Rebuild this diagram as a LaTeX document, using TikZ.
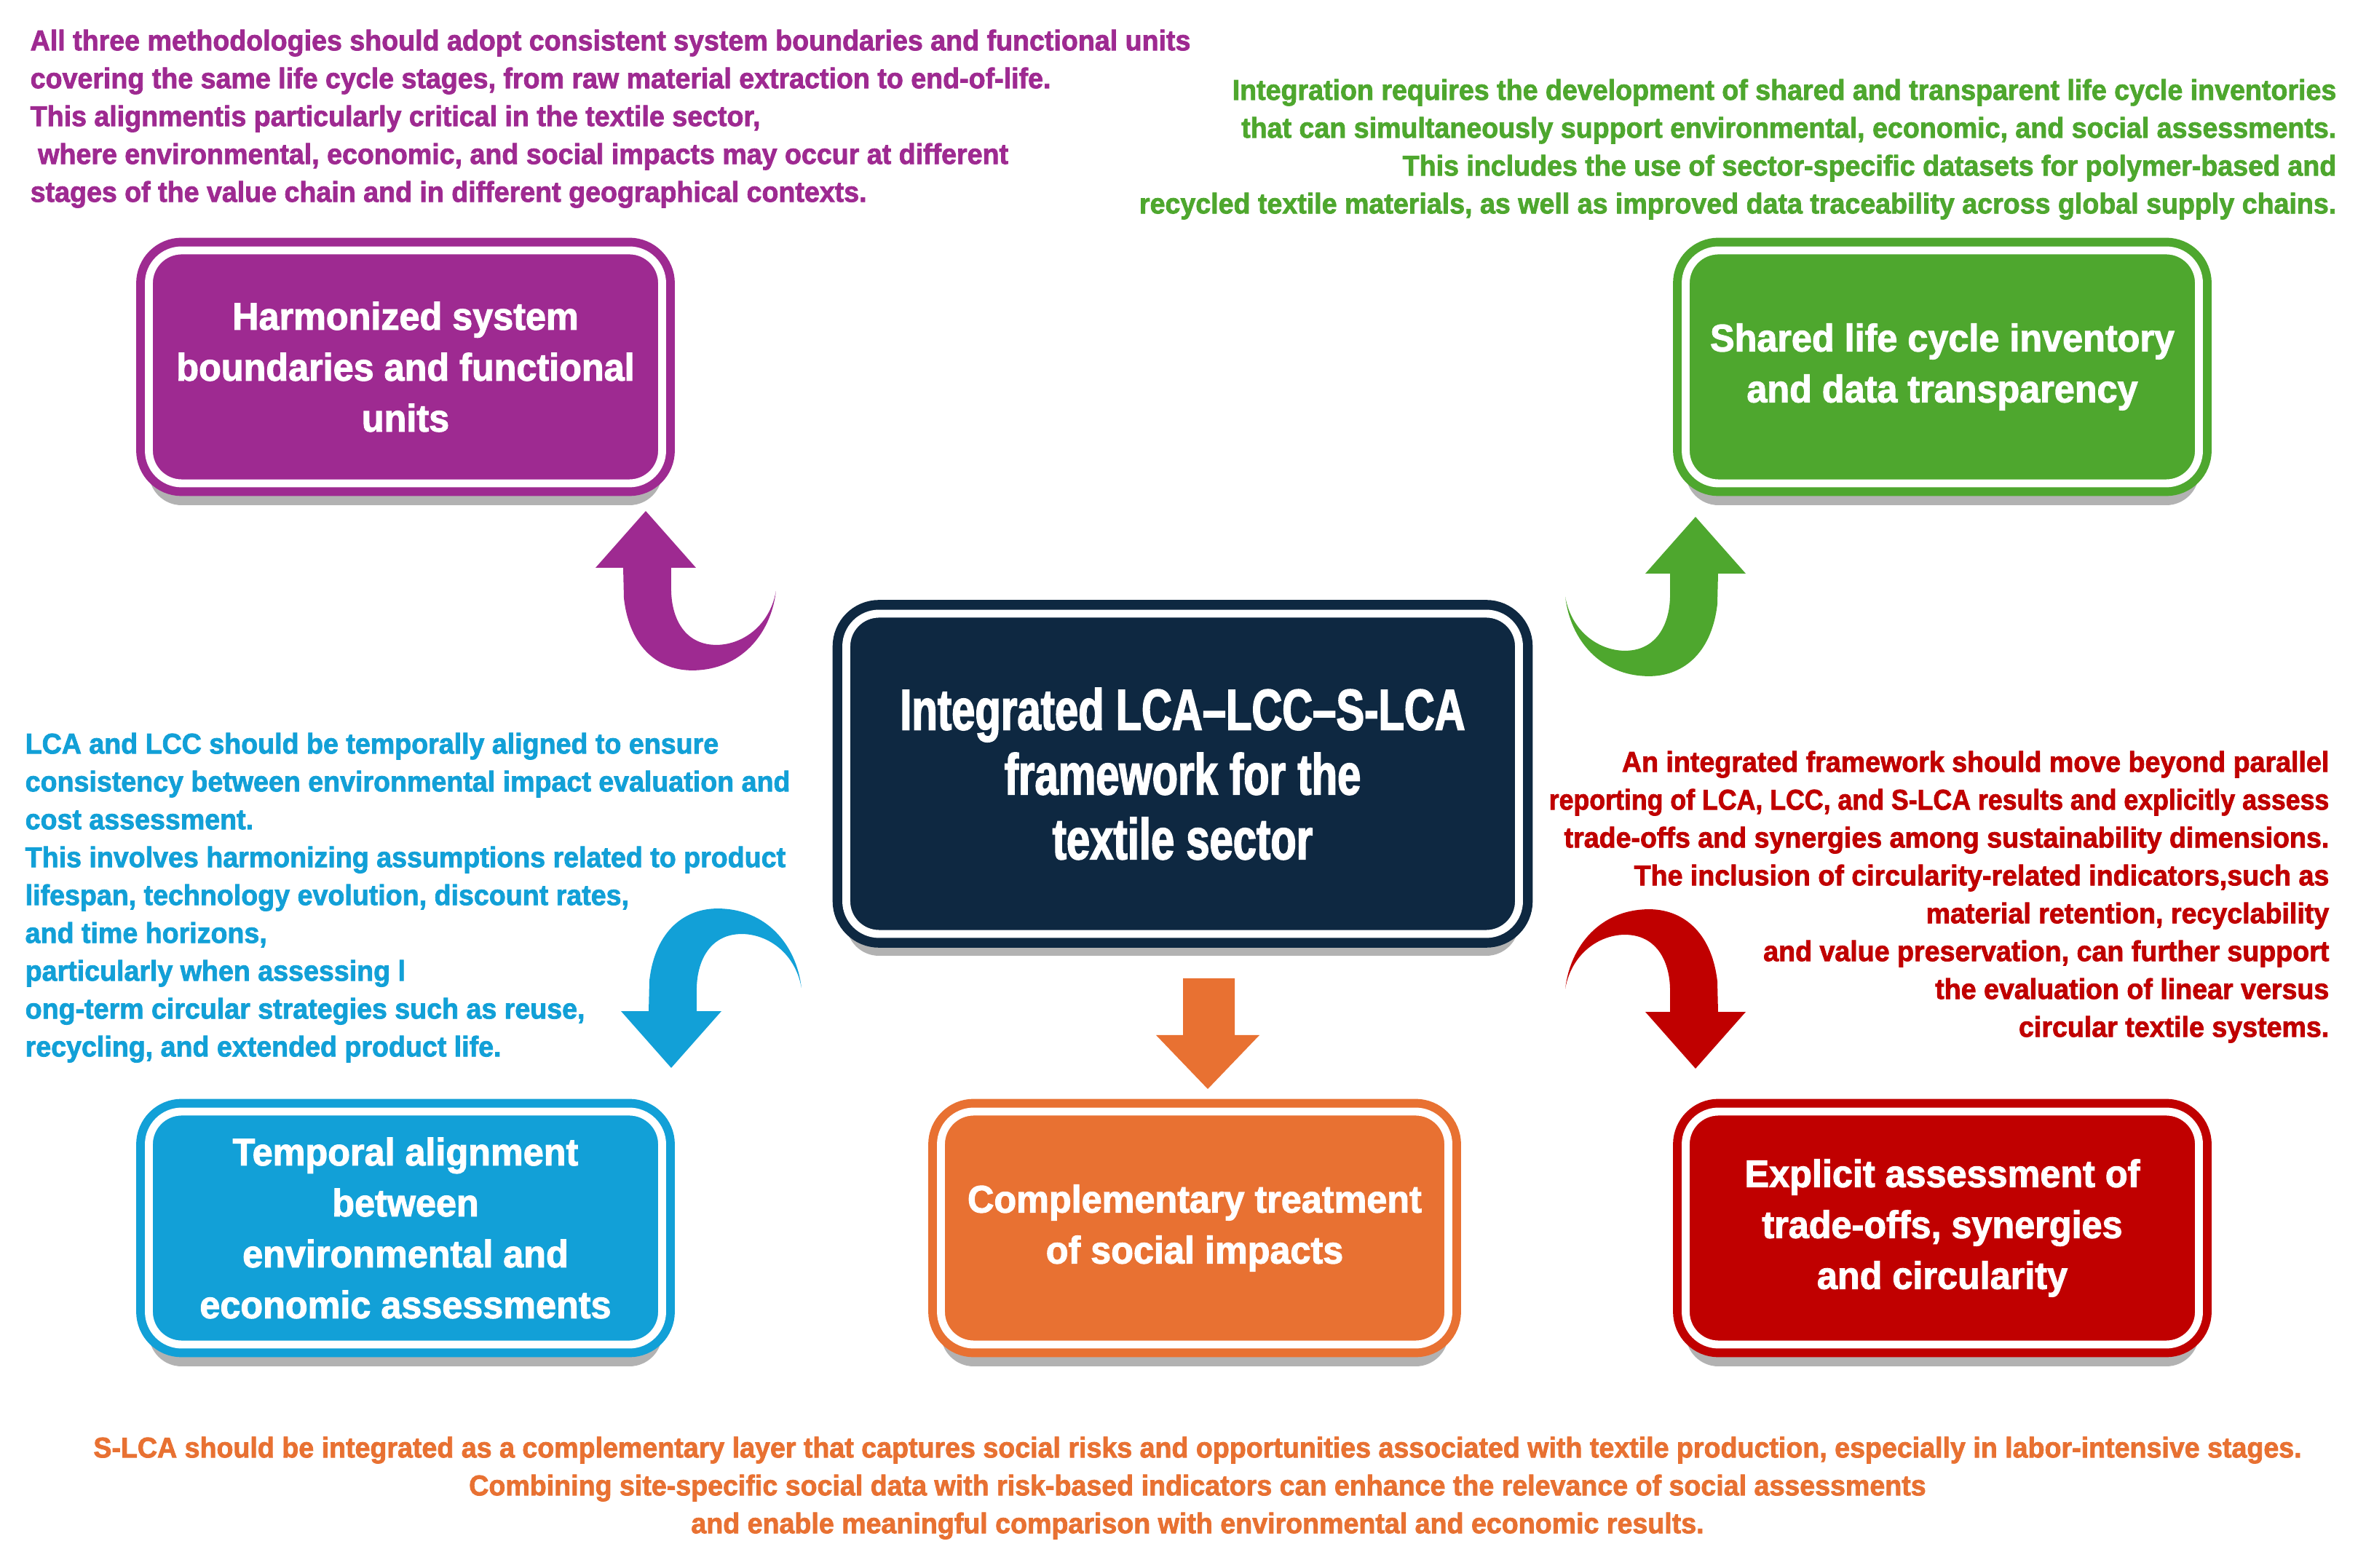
\documentclass[tikz,border=0pt]{standalone}
\usepackage{fontspec}
\usepackage{graphicx}
\setmainfont{Liberation Sans}[FakeStretch=0.955, BoldFeatures={FakeBold=2}]
\newfontfamily\titlefont{Liberation Sans}[FakeStretch=0.73, BoldFeatures={FakeBold=2}]
\usetikzlibrary{shadows}

\definecolor{colPurple}{RGB}{158,42,145}
\definecolor{colGreen}{RGB}{78,167,46}
\definecolor{colNavy}{RGB}{14,40,65}
\definecolor{colBlue}{RGB}{18,160,215}
\definecolor{colOrange}{RGB}{232,113,50}
\definecolor{colRed}{RGB}{192,0,0}

\tikzset{
	stagebox/.style={draw=#1, fill=#1, double=white, double distance=3.1pt, line width=3.4pt,
		rounded corners=0.45cm, minimum width=7.05cm, minimum height=3.2cm,
		text=white, align=center, font=\fontsize{15}{19.9}\selectfont\bfseries,
		drop shadow={shadow xshift=0pt, shadow yshift=-0.3cm, opacity=0.3, fill=black}},
	sidenote/.style={text=#1, inner sep=0pt, font=\fontsize{11.2}{14.8}\selectfont\bfseries},
	bentarrow/.pic={
		\fill (-31,-78) -- (-30,-120) .. controls (-22,-190) and (20,-220) .. (66,-219)
			.. controls (130,-218) and (172,-170) .. (179,-110)
			.. controls (170,-160) and (130,-185) .. (95,-184)
			.. controls (55,-183) and (36,-150) .. (35,-110)
			-- (35,-78) -- (69,-78) -- (0,0) -- (-69,-78) -- cycle;
	}
}

\begin{document}
\begin{tikzpicture}
\useasboundingbox (0,0) rectangle (32.5,21.53);

% central box
\node[stagebox=colNavy, minimum width=9.24cm, minimum height=4.4cm, line width=3.8pt,
	font=\fontsize{22.6}{25.3}\selectfont\titlefont\bfseries] (frame) at (16.245,10.90)
	{Integrated LCA–LCC–S-LCA\\framework for the\\textile sector};

% four corner boxes and the bottom one
\node[stagebox=colPurple] (harm) at (5.57,16.49) {Harmonized system\\boundaries and functional\\units};
\node[stagebox=colGreen] (shared) at (26.68,16.49) {Shared life cycle inventory\\and data transparency};
\node[stagebox=colBlue] (temporal) at (5.57,4.66) {Temporal alignment\\between\\environmental and\\economic assessments};
\node[stagebox=colOrange, minimum width=6.97cm] (social) at (16.41,4.66) {Complementary treatment\\of social impacts};
\node[stagebox=colRed] (tradeoff) at (26.68,4.66) {Explicit assessment of\\trade-offs, synergies\\and circularity};

% bent arrows
\pic[colPurple, scale=0.01] at (8.87,14.51) {bentarrow};
\pic[colGreen, xscale=-0.01, yscale=0.01] at (23.29,14.43) {bentarrow};
\pic[colBlue, xscale=0.01, yscale=-0.01] at (9.22,6.86) {bentarrow};
\pic[colRed, scale=-0.01] at (23.29,6.85) {bentarrow};
% straight arrow
\fill[colOrange] (16.25,8.09) -- (16.96,8.09) -- (16.96,7.31) -- (17.30,7.31)
	-- (16.59,6.57) -- (15.88,7.31) -- (16.25,7.31) -- cycle;

% notes
\node[sidenote=colPurple, anchor=north west, align=left] (harmtext) at (0.41,21.13)
	{All three methodologies should adopt consistent system boundaries and functional units\\
	covering the same life cycle stages, from raw material extraction to end-of-life.\\
	This alignmentis particularly critical in the textile sector,\\
	\hspace{3pt}where environmental, economic, and social impacts may occur at different\\
	stages of the value chain and in different geographical contexts.};
\node[sidenote=colGreen, anchor=north east, align=right] (sharedtext) at (32.10,20.45)
	{Integration requires the development of shared and transparent life cycle inventories\\
	that can simultaneously support environmental, economic, and social assessments.\\
	This includes the use of sector-specific datasets for polymer-based and\\
	recycled textile materials, as well as improved data traceability across global supply chains.};
\node[sidenote=colBlue, anchor=north west, align=left] (temporaltext) at (0.34,11.47)
	{LCA and LCC should be temporally aligned to ensure\\
	consistency between environmental impact evaluation and\\
	cost assessment.\\
	This involves harmonizing assumptions related to product\\
	lifespan, technology evolution, discount rates,\\
	and time horizons,\\
	particularly when assessing l\\
	ong-term circular strategies such as reuse,\\
	recycling, and extended product life.};
\node[sidenote=colRed, anchor=north east, align=right] (tradeofftext) at (32.00,11.22)
	{An integrated framework should move beyond parallel\\
	\scalebox{0.95}[1]{reporting of LCA, LCC, and S-LCA results and explicitly assess}\\
	trade-offs and synergies among sustainability dimensions.\\
	The inclusion of circularity-related indicators,such as\\
	material retention, recyclability\\
	and value preservation, can further support\\
	the evaluation of linear versus\\
	circular textile systems.};
\node[sidenote=colOrange, anchor=north, align=center] (socialtext) at (16.45,1.80)
	{S-LCA should be integrated as a complementary layer that captures social risks and opportunities associated with textile production, especially in labor-intensive stages.\\
	Combining site-specific social data with risk-based indicators can enhance the relevance of social assessments\\
	and enable meaningful comparison with environmental and economic results.};

\end{tikzpicture}
\end{document}
